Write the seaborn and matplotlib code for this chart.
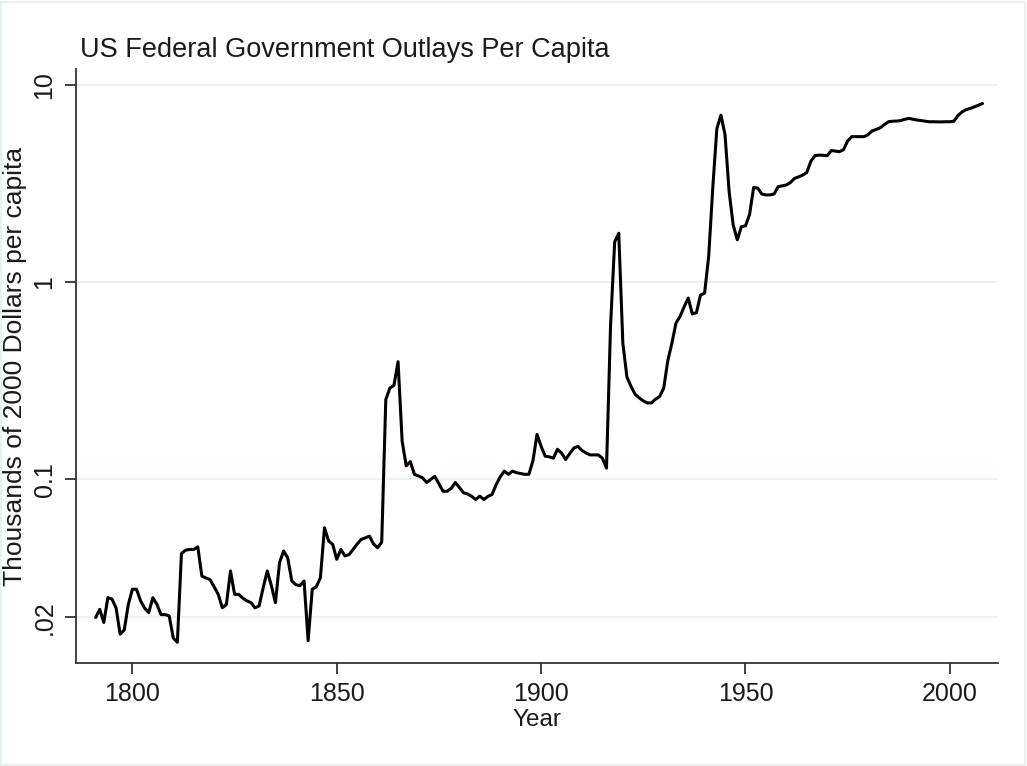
import numpy as np
import matplotlib
matplotlib.use('Agg')
import matplotlib.pyplot as plt
import seaborn as sns
import pandas as pd

# Valores (milhares de dólares de 2000 por habitante);
anos = list(range(1791, 2009))
gastos = [
    0.0199, 0.0219, 0.0188, 0.0251, 0.0247, 0.0223, 0.0164, 0.0172, 0.0232,   # 1791-1799
    0.0277, 0.0277, 0.0242, 0.0222, 0.0211, 0.0251, 0.0232, 0.0206, 0.0206, 0.0203,  # 1800-1809
    0.0157, 0.0149, 0.0420, 0.0437, 0.0441, 0.0441, 0.0454, 0.0323, 0.0316, 0.0310,  # 1810-1819
    0.0285, 0.0261, 0.0223, 0.0232, 0.0343, 0.0261, 0.0261, 0.0250, 0.0242, 0.0237,  # 1820-1829
    0.0223, 0.0228, 0.0282, 0.0343, 0.0289, 0.0237, 0.0378, 0.0433, 0.0400, 0.0305,  # 1830-1839
    0.0292, 0.0289, 0.0305, 0.0152, 0.0277, 0.0285, 0.0317, 0.0568, 0.0487, 0.0468,  # 1840-1849
    0.0393, 0.0441, 0.0409, 0.0415, 0.0441, 0.0470, 0.0496, 0.0505, 0.0515, 0.0470,  # 1850-1859
    0.0450, 0.0480, 0.254, 0.290, 0.300, 0.395, 0.156, 0.117, 0.123, 0.106,          # 1860-1869
    0.104, 0.1018, 0.0963, 0.100, 0.1035, 0.095, 0.087, 0.087, 0.090, 0.0963,        # 1870-1879
    0.091, 0.0855, 0.0843, 0.082, 0.079, 0.0822, 0.079, 0.082, 0.0837, 0.094,        # 1880-1889
    0.103, 0.110, 0.106, 0.110, 0.108, 0.107, 0.106, 0.106, 0.124, 0.169,            # 1890-1899
    0.147, 0.131, 0.130, 0.128, 0.142, 0.136, 0.126, 0.135, 0.144, 0.147,            # 1900-1909
    0.140, 0.136, 0.133, 0.133, 0.133, 0.128, 0.114, 0.608, 1.60, 1.77,              # 1910-1919
    0.49, 0.33, 0.296, 0.270, 0.259, 0.250, 0.244, 0.244, 0.255, 0.263,              # 1920-1929
    0.29, 0.40, 0.49, 0.62, 0.67, 0.75, 0.83, 0.69, 0.70, 0.86,                      # 1930-1939
    0.88, 1.35, 3.0, 6.0, 7.03, 5.6, 2.88, 1.95, 1.64, 1.91,                         # 1940-1949
    1.93, 2.2, 3.02, 3.0, 2.8, 2.77, 2.77, 2.80, 3.05, 3.08,                         # 1950-1959
    3.11, 3.2, 3.36, 3.42, 3.49, 3.6, 4.1, 4.38, 4.41, 4.40,                         # 1960-1969
    4.38, 4.65, 4.62, 4.59, 4.7, 5.2, 5.47, 5.47, 5.47, 5.47,                        # 1970-1979
    5.6, 5.85, 5.95, 6.07, 6.3, 6.51, 6.55, 6.56, 6.6, 6.7,                          # 1980-1989
    6.77, 6.7, 6.64, 6.6, 6.55, 6.51, 6.51, 6.5, 6.5, 6.51,                          # 1990-1999
    6.51, 6.55, 7.0, 7.3, 7.5, 7.6, 7.75, 7.9, 8.05,                                 # 2000-2008
]
marcas_y = [0.02, 0.1, 1, 10]
rotulos_y = ['.02', '0.1', '1', '10']
marcas_x = [1800, 1850, 1900, 1950, 2000]

df = pd.DataFrame({'Ano': anos, 'Gasto': gastos})

sns.set_theme(style='white')
plt.rcParams['font.family'] = ['Liberation Sans', 'DejaVu Sans']

fig = plt.figure(figsize=(10.27, 7.66), dpi=100)
ax = fig.add_axes([0.0740, 0.1345, 0.8978, 0.7754])

sns.lineplot(x='Ano', y='Gasto', data=df, color='black', linewidth=2.2, ax=ax)

ax.set_yscale('log')
ax.set_ylim(0.01171, 12.05)
ax.set_xlim(1786.2, 2011.8)

ax.set_yticks(marcas_y)
ax.set_yticklabels(rotulos_y)
ax.yaxis.set_minor_locator(matplotlib.ticker.NullLocator())
ax.set_xticks(marcas_x)
ax.set_xticklabels([str(a) for a in marcas_x])

for rot in ax.get_yticklabels():
    rot.set_rotation(90)
    rot.set_va('center')

ax.tick_params(axis='both', which='major', direction='out', length=8, width=1.3,
               color='#333333', labelsize=18, labelcolor='#1a1a1a', pad=6,
               left=True, bottom=True)

ax.grid(axis='y', color='#e8f0f2', linewidth=1.3)
ax.grid(axis='x', visible=False)
for lado in ['top', 'right']:
    ax.spines[lado].set_visible(False)
for lado in ['left', 'bottom']:
    ax.spines[lado].set_color('#333333')
    ax.spines[lado].set_linewidth(1.3)

ax.set_xlabel('Year', fontsize=17.5, color='#1a1a1a', labelpad=2)
ax.set_ylabel('')
fig.text(15 / 1027, 1 - 366 / 766, 'Thousands of 2000 Dollars per capita',
         rotation=90, ha='center', va='center', fontsize=19, color='#1a1a1a')
fig.text(80 / 1027, 1 - 57 / 766, 'US Federal Government Outlays Per Capita',
         ha='left', va='baseline', fontsize=19.5, color='#1a1a1a')

# Moldura clara em volta da figura;
fig.patches.append(matplotlib.patches.Rectangle((0.001, 0.001), 0.997, 0.997,
                   transform=fig.transFigure, fill=False, edgecolor='#e8f0f2',
                   linewidth=1.5))

fig.savefig('out.png', dpi=100, facecolor='white')
